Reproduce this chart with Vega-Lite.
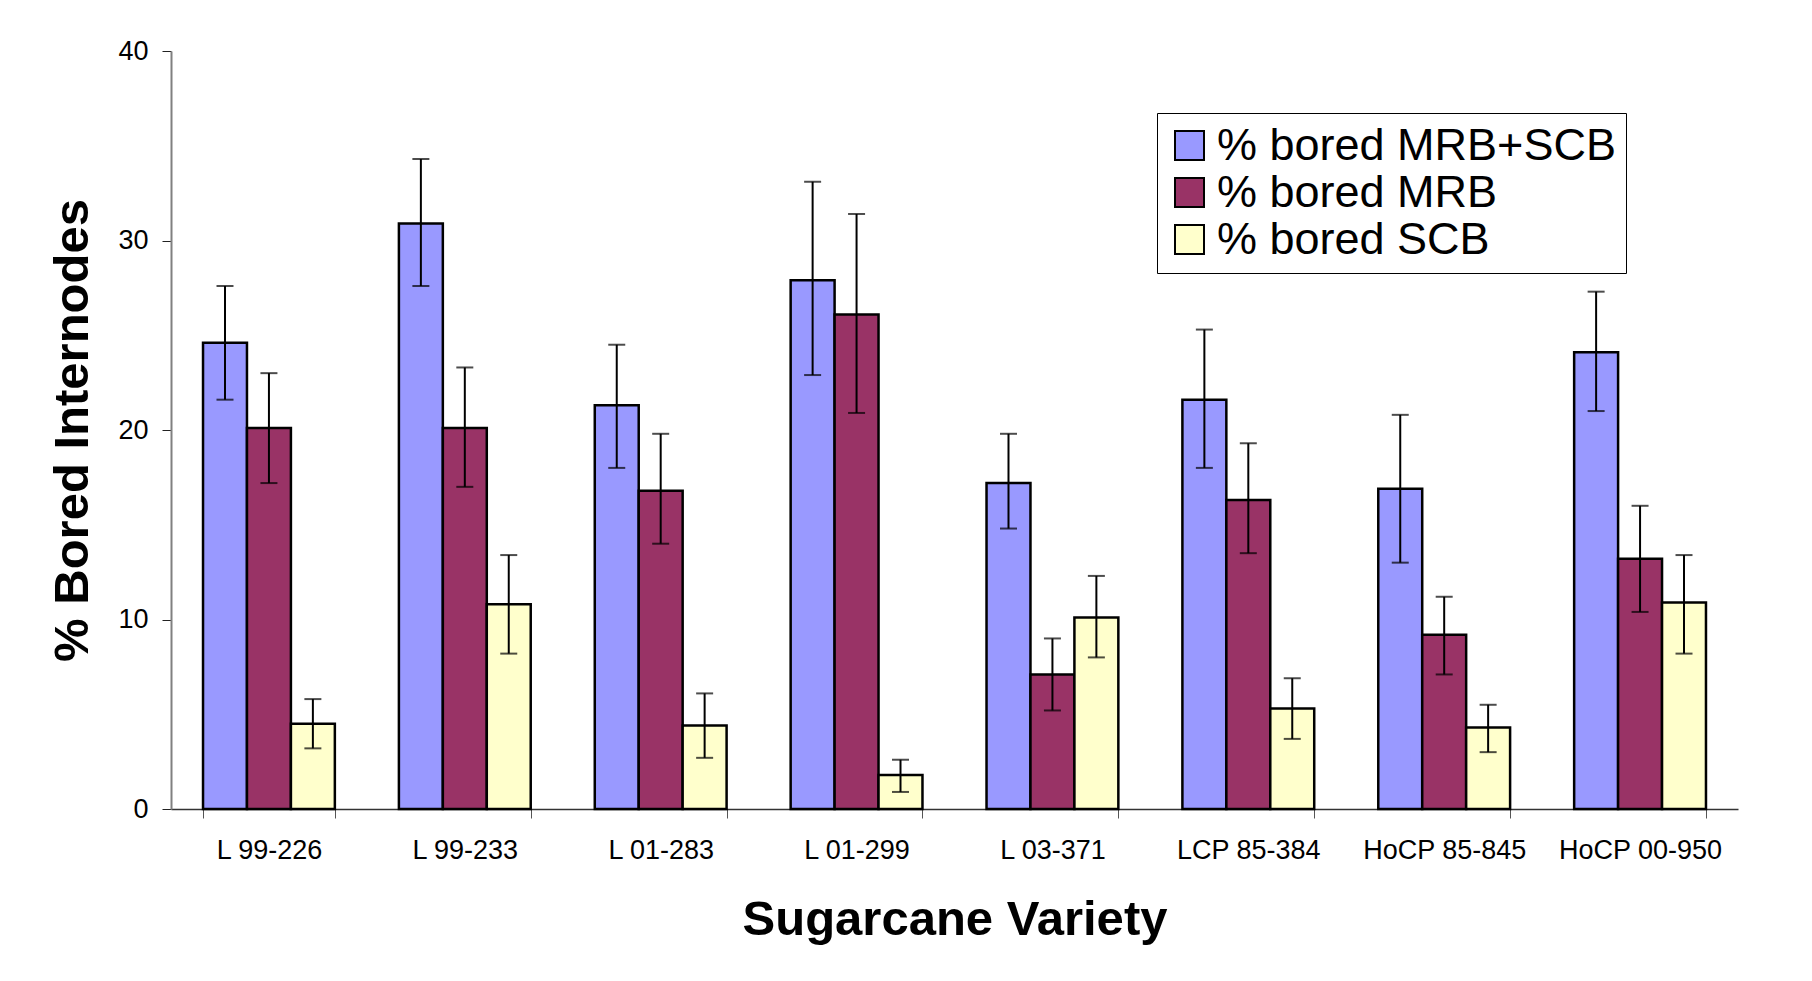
{
  "$schema": "https://vega.github.io/schema/vega-lite/v6.json",
  "autosize": {"type": "none"},
  "width": 1567,
  "height": 758,
  "padding": {"left": 171, "top": 51, "right": 74, "bottom": 172},
  "background": "white",
  "config": {
    "font": "Liberation Sans",
    "view": {"stroke": null},
    "axis": {"labelColor": "black", "titleColor": "black", "grid": false}
  },
  "data": {
    "values": [
      {"variety": "L 99-226", "series": "% bored MRB+SCB", "value": 24.6, "lo": 21.6, "hi": 27.6},
      {"variety": "L 99-226", "series": "% bored MRB", "value": 20.1, "lo": 17.2, "hi": 23.0},
      {"variety": "L 99-226", "series": "% bored SCB", "value": 4.5, "lo": 3.2, "hi": 5.8},
      {"variety": "L 99-233", "series": "% bored MRB+SCB", "value": 30.9, "lo": 27.6, "hi": 34.3},
      {"variety": "L 99-233", "series": "% bored MRB", "value": 20.1, "lo": 17.0, "hi": 23.3},
      {"variety": "L 99-233", "series": "% bored SCB", "value": 10.8, "lo": 8.2, "hi": 13.4},
      {"variety": "L 01-283", "series": "% bored MRB+SCB", "value": 21.3, "lo": 18.0, "hi": 24.5},
      {"variety": "L 01-283", "series": "% bored MRB", "value": 16.8, "lo": 14.0, "hi": 19.8},
      {"variety": "L 01-283", "series": "% bored SCB", "value": 4.4, "lo": 2.7, "hi": 6.1},
      {"variety": "L 01-299", "series": "% bored MRB+SCB", "value": 27.9, "lo": 22.9, "hi": 33.1},
      {"variety": "L 01-299", "series": "% bored MRB", "value": 26.1, "lo": 20.9, "hi": 31.4},
      {"variety": "L 01-299", "series": "% bored SCB", "value": 1.8, "lo": 0.9, "hi": 2.6},
      {"variety": "L 03-371", "series": "% bored MRB+SCB", "value": 17.2, "lo": 14.8, "hi": 19.8},
      {"variety": "L 03-371", "series": "% bored MRB", "value": 7.1, "lo": 5.2, "hi": 9.0},
      {"variety": "L 03-371", "series": "% bored SCB", "value": 10.1, "lo": 8.0, "hi": 12.3},
      {"variety": "LCP 85-384", "series": "% bored MRB+SCB", "value": 21.6, "lo": 18.0, "hi": 25.3},
      {"variety": "LCP 85-384", "series": "% bored MRB", "value": 16.3, "lo": 13.5, "hi": 19.3},
      {"variety": "LCP 85-384", "series": "% bored SCB", "value": 5.3, "lo": 3.7, "hi": 6.9},
      {"variety": "HoCP 85-845", "series": "% bored MRB+SCB", "value": 16.9, "lo": 13.0, "hi": 20.8},
      {"variety": "HoCP 85-845", "series": "% bored MRB", "value": 9.2, "lo": 7.1, "hi": 11.2},
      {"variety": "HoCP 85-845", "series": "% bored SCB", "value": 4.3, "lo": 3.0, "hi": 5.5},
      {"variety": "HoCP 00-950", "series": "% bored MRB+SCB", "value": 24.1, "lo": 21.0, "hi": 27.3},
      {"variety": "HoCP 00-950", "series": "% bored MRB", "value": 13.2, "lo": 10.4, "hi": 16.0},
      {"variety": "HoCP 00-950", "series": "% bored SCB", "value": 10.9, "lo": 8.2, "hi": 13.4}
    ]
  },
  "encoding": {
    "x": {
      "field": "variety",
      "type": "nominal",
      "sort": ["L 99-226", "L 99-233", "L 01-283", "L 01-299", "L 03-371", "LCP 85-384", "HoCP 85-845", "HoCP 00-950"],
      "scale": {"paddingInner": 0.327, "paddingOuter": 0.1635},
      "axis": {
        "title": "Sugarcane Variety",
        "titleFontSize": 49,
        "titleFontWeight": "bold",
        "titlePadding": 32,
        "labelAngle": 0,
        "labelFontSize": 27,
        "labelPadding": 19,
        "tickBand": "extent",
        "tickSize": 9,
        "tickColor": "#555555",
        "domainColor": "#333333",
        "domainWidth": 1.5
      }
    },
    "xOffset": {
      "field": "series",
      "type": "nominal",
      "sort": ["% bored MRB+SCB", "% bored MRB", "% bored SCB"],
      "scale": {"paddingInner": 0, "paddingOuter": 0}
    }
  },
  "layer": [
    {
      "mark": {"type": "bar", "stroke": "black", "strokeWidth": 2.5},
      "encoding": {
        "y": {
          "field": "value",
          "type": "quantitative",
          "scale": {"domain": [0, 40], "nice": false},
          "axis": {
            "title": "% Bored Internodes",
            "titleFontSize": 49,
            "titleFontWeight": "bold",
            "titlePadding": 20,
            "values": [0, 10, 20, 30, 40],
            "labelFontSize": 27,
            "labelPadding": 14,
            "tickSize": 9,
            "tickColor": "#222222",
            "domainColor": "#808080",
            "domainWidth": 2
          }
        },
        "color": {
          "field": "series",
          "type": "nominal",
          "sort": ["% bored MRB+SCB", "% bored MRB", "% bored SCB"],
          "scale": {"range": ["#9999ff", "#993366", "#ffffcc"]},
          "legend": {
            "title": null,
            "orient": "none",
            "legendX": 986,
            "legendY": 62,
            "padding": 10,
            "strokeColor": "black",
            "fillColor": "white",
            "labelFontSize": 45,
            "labelColor": "black",
            "labelOffset": 5,
            "labelLimit": 600,
            "symbolType": "square",
            "symbolSize": 841,
            "symbolStrokeColor": "black",
            "symbolStrokeWidth": 2,
            "rowPadding": 1
          }
        }
      }
    },
    {
      "mark": {"type": "rule", "color": "black", "strokeWidth": 2},
      "encoding": {
        "y": {"field": "lo", "type": "quantitative"},
        "y2": {"field": "hi"}
      }
    },
    {
      "mark": {"type": "tick", "color": "black", "size": 17, "thickness": 2},
      "encoding": {
        "y": {"field": "lo", "type": "quantitative"}
      }
    },
    {
      "mark": {"type": "tick", "color": "black", "size": 17, "thickness": 2},
      "encoding": {
        "y": {"field": "hi", "type": "quantitative"}
      }
    }
  ]
}
